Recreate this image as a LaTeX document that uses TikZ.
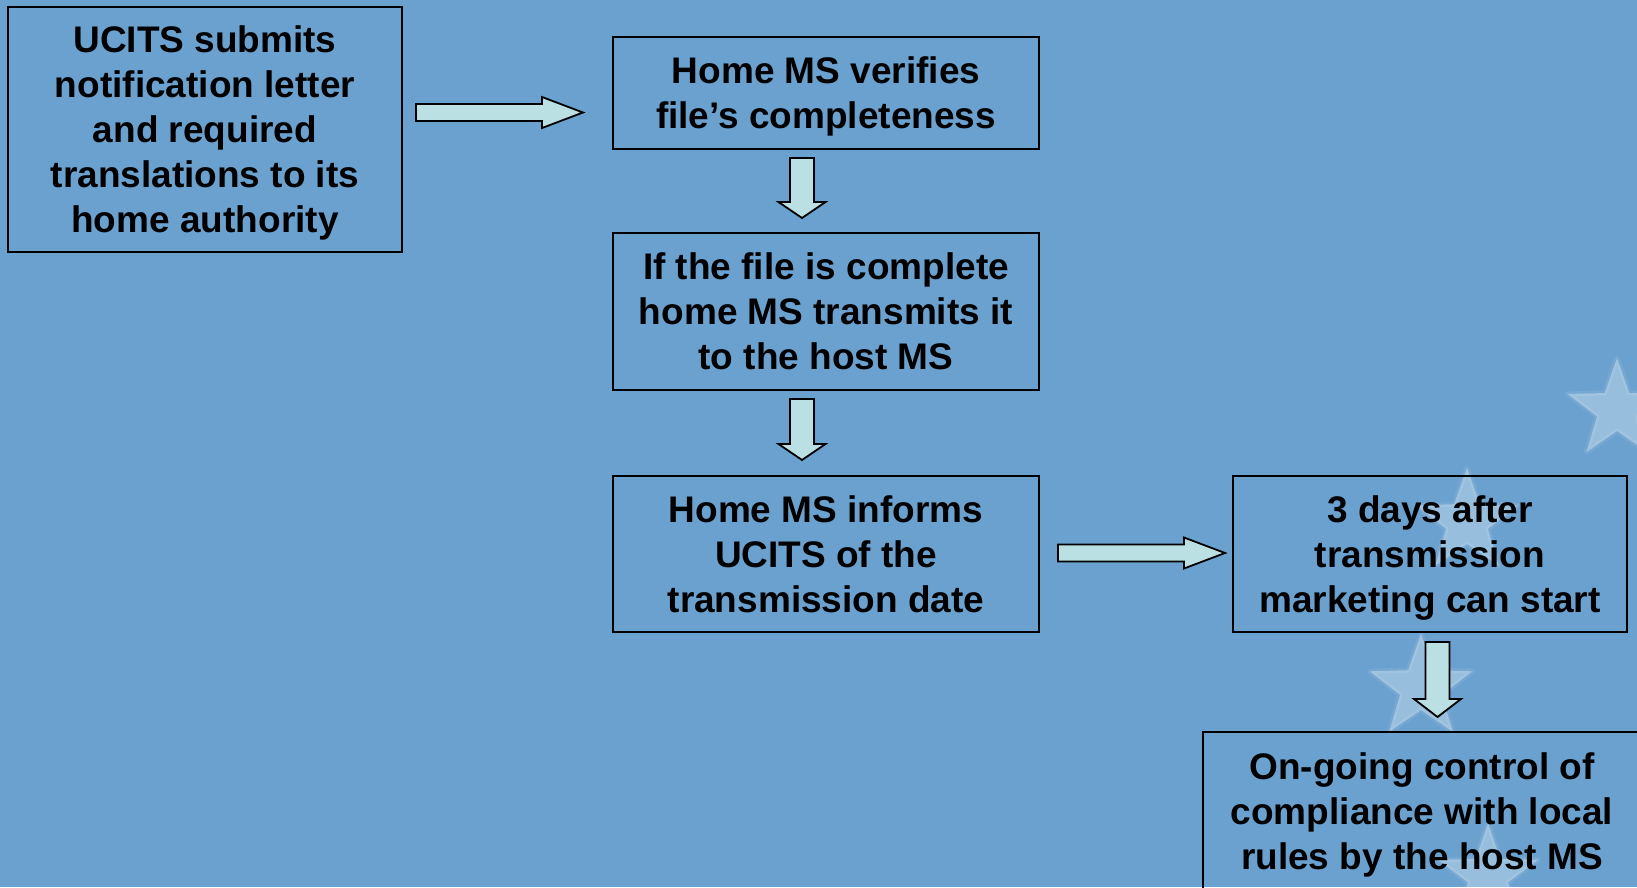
\documentclass[tikz,border=0pt]{standalone}
\usepackage{fontspec}
\setmainfont{Liberation Sans}
\usetikzlibrary{calc}
\definecolor{bgblue}{RGB}{107,161,207}
\definecolor{arrowfill}{RGB}{187,224,227}
\tikzset{
  box/.style={draw=black, line width=2.2pt, outer sep=0pt, inner sep=0pt, align=center,
    text depth=0pt, text=black, font=\bfseries\fontsize{37}{45}\selectfont},
  barrow/.style={fill=arrowfill, draw=black, line width=1.8pt, line join=miter},
  starfill/.style={fill=white, fill opacity=0.31},
  starglow/.style={draw=white, draw opacity=0.08, line width=5pt, line join=round}
}
\newcommand\eustar[4]{%
  \begin{scope}[shift={(#1,#2)}]
    \filldraw[starfill, starglow] (-90:#3) -- (-54:#4) -- (-18:#3) -- (18:#4) -- (54:#3) -- (90:#4)
      -- (126:#3) -- (162:#4) -- (198:#3) -- (234:#4) -- cycle;
  \end{scope}}
\newcommand\harrowshape[2]{%
  \filldraw[barrow] ($(#1)+(0,-8.5)$) -- ($(#2)+(-41,-8.5)$) -- ($(#2)+(-41,-15.5)$) -- (#2)
    -- ($(#2)+(-41,15.5)$) -- ($(#2)+(-41,8.5)$) -- ($(#1)+(0,8.5)$) -- cycle;}
\newcommand\varrowshape[3]{%
  \filldraw[barrow] ($(#1)+(-12,0)$) -- ($(#2)+(-12,-#3)$) -- ($(#2)+(-23.5,-#3)$) -- (#2)
    -- ($(#2)+(23.5,-#3)$) -- ($(#2)+(12,-#3)$) -- ($(#1)+(12,0)$) -- cycle;}
\begin{document}
\begin{tikzpicture}[x=1pt, y=-1pt]
  \useasboundingbox (0,0) rectangle (1637,887);
  \clip (0,0) rectangle (1637,887);
  \fill[bgblue] (0,0) rectangle (1637,887);

  % faint background stars
  \eustar{1617}{410}{52}{21}
  \eustar{1467}{522}{54}{22}
  \eustar{1421}{688}{54}{22}
  \eustar{1488}{876}{53}{21}

  % boxes
  \node[box, minimum width=394pt, minimum height=245pt] (b1) at (205,129.5)
    {UCITS submits\\notification letter\\and required\\translations to its\\home authority};
  \node[box, minimum width=426pt, minimum height=112pt] (b2) at (826,93)
    {Home MS verifies\\file’s completeness};
  \node[box, minimum width=426pt, minimum height=157pt] (b3) at (826,311.5)
    {If the file is complete\\home MS transmits it\\to the host MS};
  \node[box, minimum width=426pt, minimum height=156pt] (b4) at (826,554)
    {Home MS informs\\UCITS of the\\transmission date};
  \node[box, minimum width=394pt, minimum height=156pt] (b5) at (1430,554)
    {3 days after\\transmission\\marketing can start};
  \node[box, minimum width=438pt, minimum height=158pt] (b6) at (1422,811)
    {On-going control of\\compliance with local\\rules by the host MS};

  % connector end points
  \coordinate (h1s) at ($(b1.east)+(14,-17)$);
  \coordinate (h1e) at ($(b2.west)+(-30,19.5)$);
  \coordinate (v1s) at ($(b2.south)+(-24,9)$);
  \coordinate (v1e) at ($(b3.north)+(-24,-15)$);
  \coordinate (v2s) at ($(b3.south)+(-24,9)$);
  \coordinate (v2e) at ($(b4.north)+(-24,-16)$);
  \coordinate (h2s) at ($(b4.east)+(19,-1)$);
  \coordinate (h2e) at ($(b5.west)+(-8,-1)$);
  \coordinate (v3s) at ($(b5.south)+(7.5,10)$);
  \coordinate (v3e) at ($(b6.north)+(15.5,-15)$);

  % block arrows
  \harrowshape{h1s}{h1e}
  \varrowshape{v1s}{v1e}{16}
  \varrowshape{v2s}{v2e}{16}
  \harrowshape{h2s}{h2e}
  \varrowshape{v3s}{v3e}{18}
\end{tikzpicture}
\end{document}
